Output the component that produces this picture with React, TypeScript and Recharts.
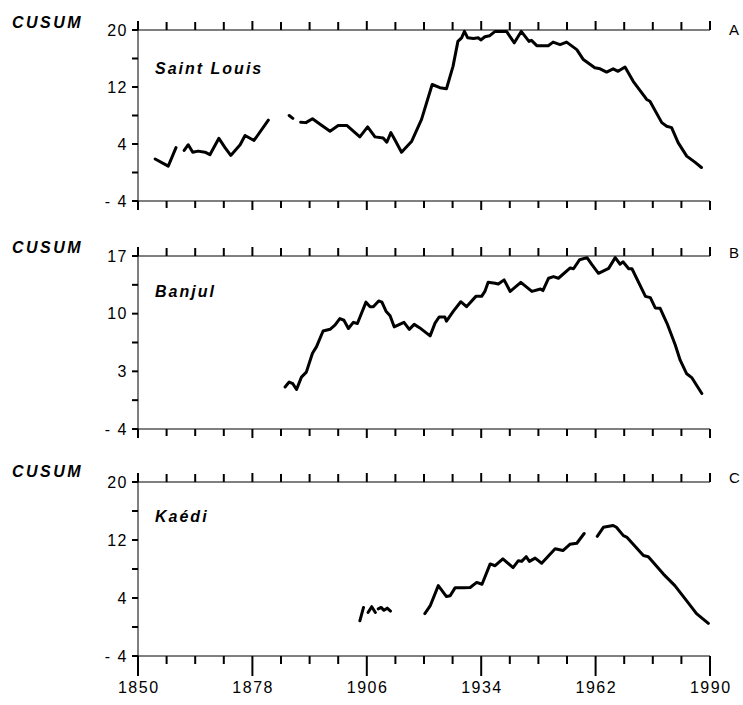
import React from 'react';
import { LineChart, Line, XAxis, YAxis } from 'recharts';

// ---------- data ----------
const yearTicks = [1850, 1857, 1864, 1871, 1878, 1885, 1892, 1899, 1906, 1913, 1920, 1927, 1934, 1941, 1948, 1955, 1962, 1969, 1976, 1983, 1990];
const yearLabels = [1850, 1878, 1906, 1934, 1962, 1990];

const ticksA = [-4, 0, 4, 8, 12, 16, 20];
const labelsA: Array<[number, string]> = [[20, '20'], [12, '12'], [4, '4'], [-4, '- 4']];
const ticksB = [-4, -0.5, 3, 6.5, 10, 13.5, 17];
const labelsB: Array<[number, string]> = [[17, '17'], [10, '10'], [3, '3'], [-4, '- 4']];
const ticksC = [-4, 0, 4, 8, 12, 16, 20];
const labelsC: Array<[number, string]> = [[20, '20'], [12, '12'], [4, '4'], [-4, '- 4']];

const stations = ['Saint Louis', 'Banjul', 'Kaédi'];
const panelLetters = ['A', 'B', 'C'];

const saintLouis: Array<[number, number | null]> = [
  [1854.2, 1.9], [1857.4, 0.9], [1859.3, 3.5], [1860.3, null],
  [1861.3, 3.1], [1862.3, 3.9], [1863.4, 2.85], [1864.7, 3.0], [1866.4, 2.85], [1867.6, 2.5],
  [1869.8, 4.8], [1871.3, 3.5], [1872.7, 2.4], [1875.0, 3.9], [1876.2, 5.2], [1878.4, 4.5],
  [1881.9, 7.35], [1884.0, null],
  [1887.0, 8.0], [1887.9, 7.6], [1888.8, null],
  [1889.8, 7.05], [1891.1, 7.0], [1892.7, 7.55], [1895.0, 6.6], [1897.0, 5.8], [1899.0, 6.6],
  [1901.1, 6.6], [1904.3, 5.0], [1906.2, 6.4], [1908.0, 5.0], [1910.0, 4.85], [1910.9, 4.25],
  [1911.9, 5.6], [1912.9, 4.55], [1914.5, 2.85], [1917.0, 4.4], [1919.4, 7.45], [1922.0, 12.35],
  [1923.9, 11.9], [1925.5, 11.75], [1927.1, 14.9], [1928.3, 18.4], [1929.2, 18.9], [1929.9, 19.8],
  [1930.7, 18.9], [1932.1, 18.8], [1933.3, 18.9], [1933.9, 18.6], [1934.9, 19.05], [1936.1, 19.2],
  [1937.4, 19.8], [1940.2, 19.8], [1942.1, 18.2], [1943.8, 19.8], [1945.7, 18.4], [1946.3, 18.55],
  [1947.6, 17.8], [1950.4, 17.8], [1951.6, 18.3], [1953.3, 17.95], [1954.9, 18.3], [1957.4, 17.25],
  [1959.0, 15.85], [1961.8, 14.7], [1963.1, 14.55], [1964.7, 14.1], [1966.3, 14.55], [1967.5, 14.2],
  [1969.2, 14.8], [1971.2, 12.8], [1974.5, 10.25], [1975.3, 10.0], [1978.2, 7.0], [1979.4, 6.5],
  [1980.6, 6.3], [1982.2, 4.2], [1984.3, 2.3], [1986.3, 1.45], [1987.9, 0.7],
];

const banjul: Array<[number, number | null]> = [
  [1886.0, 1.1], [1887.0, 1.7], [1887.9, 1.5], [1888.8, 0.8], [1890.0, 2.3], [1891.2, 2.9],
  [1892.7, 5.2], [1893.7, 6.0], [1895.3, 7.9], [1897.0, 8.1], [1898.2, 8.6], [1899.4, 9.4],
  [1900.4, 9.2], [1901.5, 8.2], [1902.7, 8.95], [1903.7, 8.8], [1905.8, 11.4], [1906.8, 10.85],
  [1907.6, 10.85], [1908.9, 11.55], [1909.7, 11.4], [1910.7, 10.3], [1911.7, 9.75], [1912.7, 8.4],
  [1915.1, 8.95], [1916.4, 8.1], [1917.6, 8.7], [1918.9, 8.3], [1921.5, 7.3], [1922.7, 8.85],
  [1923.7, 9.6], [1925.1, 9.6], [1925.5, 9.1], [1927.2, 10.3], [1929.0, 11.45], [1930.4, 10.85],
  [1932.7, 12.1], [1934.1, 12.1], [1934.9, 12.7], [1935.7, 13.8], [1937.4, 13.7], [1938.2, 13.6],
  [1939.6, 14.1], [1941.1, 12.7], [1943.7, 13.8], [1946.4, 12.7], [1948.5, 13.0], [1949.1, 12.8],
  [1950.5, 14.3], [1951.7, 14.5], [1952.9, 14.3], [1955.8, 15.55], [1956.6, 15.45], [1958.1, 16.55],
  [1959.9, 16.8], [1961.1, 15.95], [1962.7, 14.9], [1965.2, 15.5], [1966.8, 16.8], [1968.0, 16.0],
  [1968.7, 16.3], [1970.1, 15.45], [1970.9, 15.45], [1974.2, 12.1], [1975.4, 11.95], [1976.6, 10.7],
  [1977.8, 10.65], [1979.5, 8.8], [1981.5, 6.2], [1982.7, 4.35], [1984.3, 2.7], [1985.6, 2.2],
  [1988.0, 0.3],
];

const kaedi: Array<[number, number | null]> = [
  [1904.3, 0.85], [1905.2, 2.7], [1905.8, null],
  [1906.3, 2.0], [1907.2, 2.8], [1908.1, 2.0], [1908.4, null],
  [1908.8, 2.5], [1909.5, 2.7], [1910.2, 2.3], [1911.0, 2.6], [1911.8, 2.2], [1915.0, null],
  [1920.2, 1.85], [1921.5, 2.9], [1923.5, 5.7], [1925.5, 4.2], [1926.4, 4.3], [1927.6, 5.4],
  [1929.7, 5.4], [1931.3, 5.45], [1932.9, 6.15], [1934.2, 5.9], [1936.2, 8.7], [1937.4, 8.45],
  [1939.3, 9.4], [1941.8, 8.2], [1943.1, 9.15], [1943.9, 9.05], [1945.0, 9.7], [1945.8, 9.05],
  [1947.2, 9.5], [1948.8, 8.8], [1952.1, 10.8], [1954.0, 10.55], [1955.7, 11.4], [1957.4, 11.55],
  [1959.2, 12.9], [1960.8, null],
  [1962.4, 12.5], [1963.9, 13.75], [1966.3, 14.0], [1967.1, 13.75], [1968.8, 12.6], [1969.6, 12.4],
  [1973.7, 9.85], [1974.9, 9.7], [1978.6, 7.3], [1981.4, 5.7], [1984.3, 3.6], [1986.7, 1.85],
  [1989.6, 0.5],
];

// ---------- styling ----------
const INK = '#000';
const FONT = '"Liberation Sans", Arial, Helvetica, sans-serif';

const toRows = (s: Array<[number, number | null]>) => s.map(([year, v]) => ({ year, v }));

const TopTick = (props: any) => {
  const major = yearLabels.includes(props.payload.value);
  return <line x1={props.x} x2={props.x} y1={props.y} y2={props.y - (major ? 9 : 8)} stroke={INK} strokeWidth={2} />;
};

const BottomTick = (props: any) => {
  const major = yearLabels.includes(props.payload.value);
  return <line x1={props.x} x2={props.x} y1={props.y} y2={props.y + (major ? 9 : 7)} stroke={INK} strokeWidth={2} />;
};

const BottomTickLabeled = (props: any) => {
  const major = yearLabels.includes(props.payload.value);
  return (
    <g>
      <line x1={props.x} x2={props.x} y1={props.y} y2={props.y + (major ? 20 : 8)} stroke={INK} strokeWidth={2} />
      {major && (
        <text x={props.x + 0.75} y={props.y + 37} textAnchor="middle" fontSize={16} fontFamily={FONT} fill={INK} letterSpacing={1.5}>
          {String(props.payload.value)}
        </text>
      )}
    </g>
  );
};

const RightTick = (props: any) => (
  <line x1={props.x} x2={props.x - 6} y1={props.y} y2={props.y} stroke={INK} strokeWidth={2} />
);

type PanelProps = {
  series: Array<[number, number | null]>;
  top: number;
  height: number;
  margin: { top: number; right: number; bottom: number; left: number };
  domain: [number, number];
  yTicks: number[];
  yLabels: Array<[number, string]>;
  labeled: boolean;
};

function Panel({ series, top, height, margin, domain, yTicks, yLabels, labeled }: PanelProps) {
  const data = toRows(series);
  const fmt = (v: number) => {
    const f = yLabels.find(([val]) => Math.abs(val - v) < 1e-6);
    return f ? f[1] : '';
  };
  return (
    <div style={{ position: 'absolute', left: 0, top, width: 743, height }}>
      <LineChart width={743} height={height} data={data} margin={margin}>
        <XAxis xAxisId="t" orientation="top" type="number" dataKey="year" domain={[1850, 1990]} ticks={yearTicks} interval={0}
          height={10} tickSize={0} tickMargin={0} tickLine={false} stroke={INK} tick={<TopTick />} />
        {labeled ? (
          <XAxis xAxisId="b" orientation="bottom" type="number" dataKey="year" domain={[1850, 1990]} ticks={yearTicks} interval={0}
            height={40} tickSize={0} tickMargin={0} tickLine={false} stroke={INK} tick={<BottomTickLabeled />} />
        ) : (
          <XAxis xAxisId="b" orientation="bottom" type="number" dataKey="year" domain={[1850, 1990]} ticks={yearTicks} interval={0}
            height={10} tickSize={0} tickMargin={0} tickLine={false} stroke={INK} tick={<BottomTick />} />
        )}
        <YAxis yAxisId="l" orientation="left" type="number" domain={domain} ticks={yTicks} interval={0} width={40}
          tickSize={6} tickMargin={4} stroke={INK} tickLine={{ stroke: INK, strokeWidth: 2 }}
          tick={{ fill: INK, fontSize: 16, fontFamily: FONT, letterSpacing: 1.5 }} tickFormatter={fmt} />
        <YAxis yAxisId="r" orientation="right" mirror type="number" domain={domain} ticks={yTicks} interval={0} width={0}
          tickSize={0} tickMargin={0} tickLine={false} stroke={INK} tick={<RightTick />} />
        <Line xAxisId="b" yAxisId="l" dataKey="v" type="linear" stroke={INK} strokeWidth={3} strokeLinejoin="round"
          strokeLinecap="round" dot={false} activeDot={false} connectNulls={false} isAnimationActive={false} />
      </LineChart>
    </div>
  );
}

export default function App() {
  const cusumY = [28, 253, 477];
  const nameY = [74, 297, 522];
  const letterY = [35, 258, 483];
  return (
    <div style={{ position: 'absolute', left: 0, top: 0, width: 743, height: 705, background: '#fff' }}>
      <svg width={743} height={705} style={{ position: 'absolute', left: 0, top: 0, pointerEvents: 'none' }}>
        {cusumY.map((y, i) => (
          <text key={'c' + i} x={12} y={y} fontSize={16} fontWeight="bold" fontStyle="italic" fontFamily={FONT} fill={INK} letterSpacing={2.5}>
            CUSUM
          </text>
        ))}
        {stations.map((s, i) => (
          <text key={'s' + i} x={155} y={nameY[i]} fontSize={16} fontWeight="bold" fontStyle="italic" fontFamily={FONT} fill={INK} letterSpacing={2}>
            {s}
          </text>
        ))}
        {panelLetters.map((l, i) => (
          <text key={'l' + i} x={729} y={letterY[i]} fontSize={15} fontFamily={FONT} fill={INK}>
            {l}
          </text>
        ))}
      </svg>
      <Panel series={saintLouis} top={0} height={230} margin={{ top: 20, right: 33, bottom: 19, left: 98 }} domain={[-4, 20]} yTicks={ticksA} yLabels={labelsA} labeled={false} />
      <Panel series={banjul} top={230} height={230} margin={{ top: 16, right: 33, bottom: 21, left: 98 }} domain={[-4, 17]} yTicks={ticksB} yLabels={labelsB} labeled={false} />
      <Panel series={kaedi} top={460} height={245} margin={{ top: 12, right: 33, bottom: 9, left: 98 }} domain={[-4, 20]} yTicks={ticksC} yLabels={labelsC} labeled={true} />
    </div>
  );
}
